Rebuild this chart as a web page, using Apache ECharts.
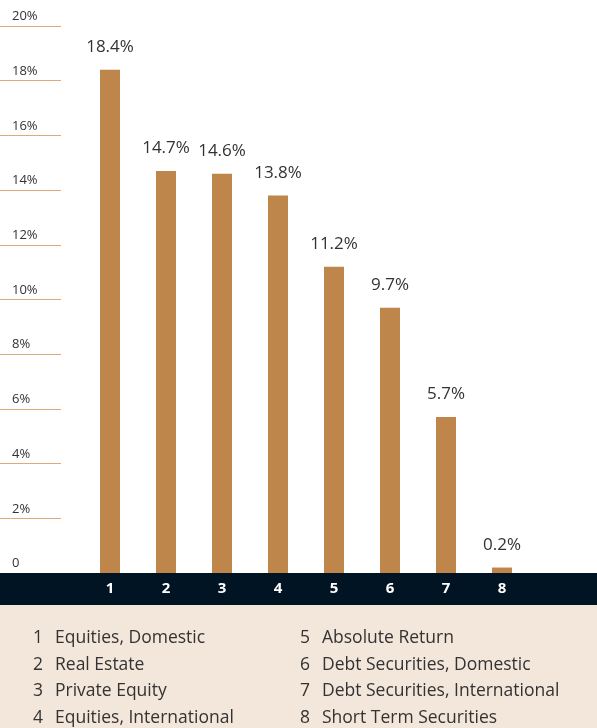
<!DOCTYPE html>
<html><head><meta charset="utf-8">
<script src="https://cdn.jsdelivr.net/npm/echarts@6/dist/echarts.min.js"></script>
<style>html,body{margin:0;padding:0;background:#fff}#c{width:597px;height:728px}</style>
</head><body><div id="c"></div>
<script>
const categories = ['1','2','3','4','5','6','7','8'];
const names = ['Equities, Domestic','Real Estate','Private Equity','Equities, International','Absolute Return','Debt Securities, Domestic','Debt Securities, International','Short Term Securities'];
const values = [18.4, 14.7, 14.6, 13.8, 11.2, 9.7, 5.7, 0.2];
const yTicks = [0,2,4,6,8,10,12,14,16,18,20];

const FONT = 'Open Sans';
const chart = echarts.init(document.getElementById('c'));
const graphics = [
  {type:'rect', shape:{x:0,y:573,width:597,height:32}, style:{fill:'#001424'}, z:5, silent:true},
  {type:'rect', shape:{x:0,y:605,width:597,height:123}, style:{fill:'#f3e6da'}, z:5, silent:true}
];
names.forEach((n,i)=>{
  const col = i < 4 ? 0 : 1;
  const row = i % 4;
  const xNum = col === 0 ? 33 : 300;
  const y = 638 + row*26.7;
  graphics.push({type:'text', x:xNum, y:y, z:6, style:{text:categories[i], font:'17.5px '+FONT, fill:'#333', verticalAlign:'middle'}});
  graphics.push({type:'text', x:xNum+22, y:y, z:6, style:{text:n, font:'17.5px '+FONT, fill:'#333', verticalAlign:'middle'}});
});

chart.setOption({
  animation:false,
  grid:[
    {left:0, width:61, top:26, bottom:155},
    {left:82, right:67, top:26, bottom:155}
  ],
  xAxis:[
    {gridIndex:0, type:'value', show:false},
    {gridIndex:1, type:'category', data:categories, z:10,
     axisLine:{show:false}, axisTick:{show:false},
     axisLabel:{color:'#fff', fontWeight:'bold', fontSize:15, fontFamily:FONT, margin:8}}
  ],
  yAxis:[
    {gridIndex:0, type:'value', min:0, max:20, interval:2,
     axisLine:{show:false}, axisTick:{show:false},
     splitLine:{show:true, lineStyle:{color:'#dcaa7c', width:1}},
     axisLabel:{inside:true, margin:12, align:'left', verticalAlign:'bottom', padding:[0,0,3,0],
       color:'#333', fontSize:13, fontFamily:FONT,
       formatter:v=> v===0 ? '0' : v+'%'}},
    {gridIndex:1, type:'value', min:0, max:20, interval:2, show:false, splitLine:{show:false}}
  ],
  series:[{
    type:'bar', xAxisIndex:1, yAxisIndex:1, data:values, barWidth:20,
    itemStyle:{color:'#be864b'},
    label:{show:true, position:'top', distance:14, color:'#333', fontSize:17, fontFamily:FONT,
      formatter:p=>p.value.toFixed(1)+'%'}
  }],
  graphic:graphics
});
</script></body></html>
